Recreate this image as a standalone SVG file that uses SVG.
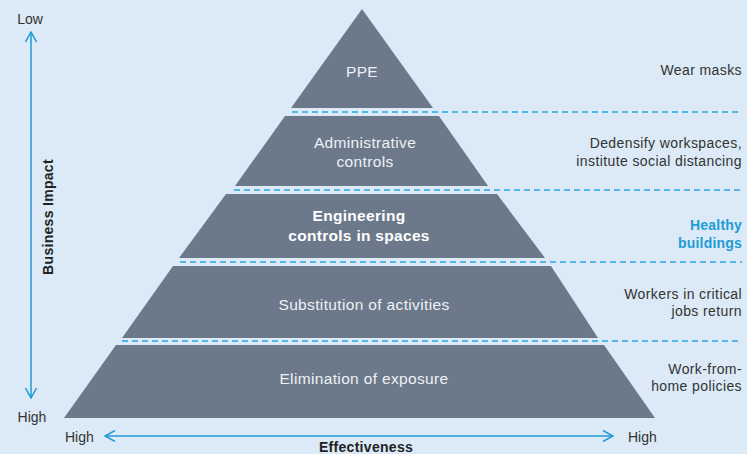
<svg xmlns="http://www.w3.org/2000/svg" width="747" height="454" viewBox="0 0 747 454">
<defs>
<style>
.tier{fill:#6b798b}
.tl{font-family:"Liberation Sans",Arial,sans-serif;font-size:15.5px;letter-spacing:0.35px;fill:#eef1f4;text-anchor:middle}
.tb{font-weight:bold;fill:#ffffff;letter-spacing:0.3px}
.rt{font-family:"Liberation Sans",Arial,sans-serif;font-size:14px;letter-spacing:0.4px;fill:#333333;text-anchor:end}
.hb{fill:#1f9bd7;font-weight:bold;letter-spacing:0.2px}
.ax{font-family:"Liberation Sans",Arial,sans-serif;font-size:14px;fill:#333333}
.axb{font-weight:bold;fill:#222222;letter-spacing:0.3px}
.dash{stroke:#29a6df;stroke-width:1.5;stroke-dasharray:6 4;fill:none}
.axis{stroke:#1f9bd7;stroke-width:1.5;fill:none}
</style>
<marker id="chev" viewBox="0 0 12 12" refX="11" refY="6" markerWidth="12" markerHeight="12" markerUnits="userSpaceOnUse" orient="auto-start-reverse">
<path d="M1,0.5 L11,6 L1,11.5" fill="none" stroke="#1f9bd7" stroke-width="1.5"/>
</marker>
</defs>
<rect width="747" height="454" fill="#dbeaf6"/>
<g id="connectors">
<line class="dash" x1="292" y1="112" x2="742" y2="112"/>
<line class="dash" x1="234" y1="190" x2="742" y2="190"/>
<line class="dash" x1="180" y1="262" x2="742" y2="262"/>
<line class="dash" x1="122" y1="341" x2="742" y2="341"/>
<line class="axis" x1="31" y1="32" x2="31" y2="398" marker-start="url(#chev)" marker-end="url(#chev)"/>
<line class="axis" x1="105" y1="436" x2="613" y2="436" marker-start="url(#chev)" marker-end="url(#chev)"/>
</g>
<g id="ppe">
<polygon class="tier" points="362,9 291,108 433,108"/>
<text class="tl" x="362" y="77">PPE</text>
</g>
<g id="administrative">
<polygon class="tier" points="285,116 439,116 488,186 235,186"/>
<text class="tl" x="365" y="148">Administrative</text>
<text class="tl" x="365" y="167">controls</text>
</g>
<g id="engineering">
<polygon class="tier" points="226,194 497,194 545,258 179,258"/>
<text class="tl tb" x="359" y="221">Engineering</text>
<text class="tl tb" x="359" y="241">controls in spaces</text>
</g>
<g id="substitution">
<polygon class="tier" points="173,266 551,266 598,338 122,338"/>
<text class="tl" x="364" y="310">Substitution of activities</text>
</g>
<g id="elimination">
<polygon class="tier" points="116,345 604,345 655,418 64,418"/>
<text class="tl" x="364" y="384">Elimination of exposure</text>
</g>
<g id="right-labels">
<text class="rt" x="742" y="75">Wear masks</text>
<text class="rt" x="742" y="148">Dedensify workspaces,</text>
<text class="rt" x="742" y="166">institute social distancing</text>
<text class="rt hb" x="742" y="230">Healthy</text>
<text class="rt hb" x="742" y="248">buildings</text>
<text class="rt" x="742" y="299">Workers in critical</text>
<text class="rt" x="742" y="316">jobs return</text>
<text class="rt" x="742" y="374">Work-from-</text>
<text class="rt" x="742" y="391">home policies</text>
</g>
<g id="axes-labels">
<text class="ax" x="30" y="24" text-anchor="middle">Low</text>
<text class="ax" x="32" y="422" text-anchor="middle">High</text>
<text class="ax axb" transform="translate(53,217) rotate(-90)" text-anchor="middle">Business Impact</text>
<text class="ax" x="65" y="442">High</text>
<text class="ax" x="628" y="442">High</text>
<text class="ax axb" x="366" y="452" text-anchor="middle">Effectiveness</text>
</g>
</svg>
